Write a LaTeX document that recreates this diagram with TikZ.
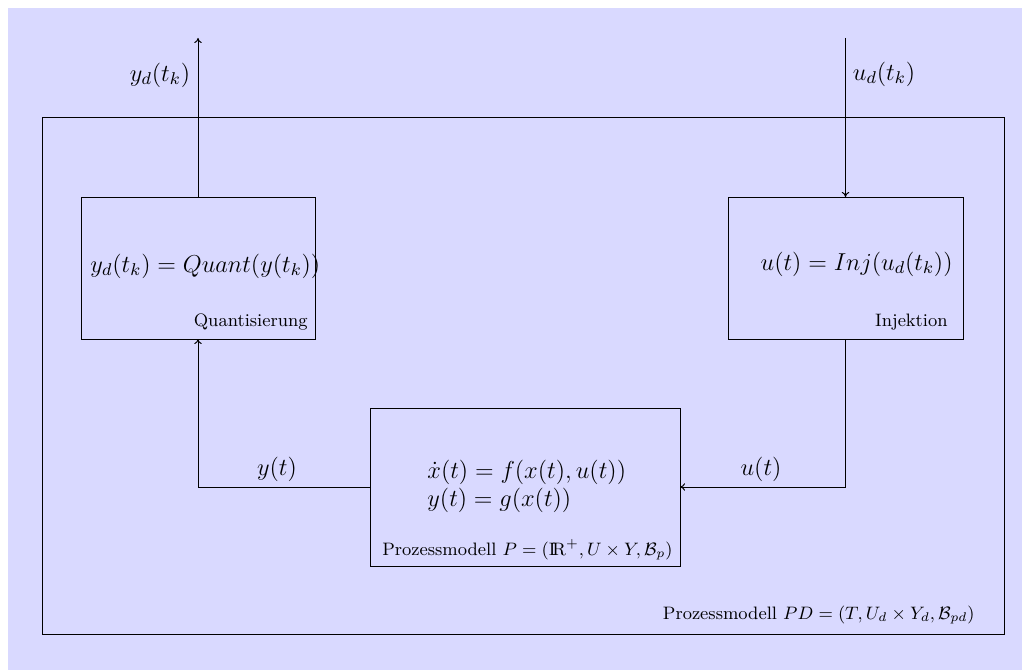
\documentclass[tikz,border=0pt]{standalone}
\usepackage{fix-cm}
\usetikzlibrary{fit,arrows.meta}
\begin{document}
\begin{tikzpicture}[x=0.511pt,y=-0.511pt,
  box/.style={draw, inner sep=0pt, outer sep=0pt, line width=0.45pt},
  conn/.style={draw, line width=0.5pt},
  arr/.style={conn, -{To[length=2.6pt,width=3.8pt]}},
  capt/.style={font=\fontsize{9.2}{11}\selectfont, inner sep=0pt},
  lab/.style={font=\fontsize{12.5}{14.3}\selectfont, inner sep=0pt}]
\useasboundingbox (0,0) rectangle (1022,670);
\fill[blue!15] (8,8) rectangle (1022,670);
% boxes
\node[box, fit={(42,117) (1004,634)}] (pd) {};
\node[box, fit={(81,197) (315,339)}] (q) {};
\node[box, fit={(728,197) (963,339)}] (inj) {};
\node[box, fit={(370,408) (680,566)}] (p) {};
% texts
\node[lab, anchor=west] (qf) at (90,266) {$y_d(t_k) = Quant(y(t_k))$};
\node[capt, anchor=east] (qc) at (308,322) {Quantisierung};
\node[lab, anchor=east] (injf) at (953,264) {$u(t) = Inj(u_d(t_k))$};
\node[capt, anchor=east] (injc) at (948,322) {Injektion};
\node[lab, anchor=west, align=left] (pf) at (427,486) {$\dot{x}(t) = f(x(t),u(t))$\\$y(t) = g(x(t))$};
\node[capt, anchor=east] (pc) at (673,550) {Prozessmodell $P = (\mathrm{I\!R}^+, U \times Y, \mathcal{B}_p)$};
\node[capt, anchor=east] (pdc) at (975,615) {Prozessmodell $PD = (T, U_d \times Y_d, \mathcal{B}_{pd})$};
% connectors
\coordinate (ydout) at (198,38);
\coordinate (udin) at (847,38);
\draw[arr] (q.north) -- (q.north |- ydout);
\node[lab] (ydl) at (160,75) {$y_d(t_k)$};
\draw[arr] (inj.north |- udin) -- (inj.north);
\node[lab] (udl) at (884,74) {$u_d(t_k)$};
\draw[arr] (inj.south) |- (p.east);
\node[lab] (ul) at (761,469) {$u(t)$};
\draw[arr] (p.west) -| (q.south);
\node[lab] (yl) at (277,469) {$y(t)$};
\end{tikzpicture}
\end{document}
